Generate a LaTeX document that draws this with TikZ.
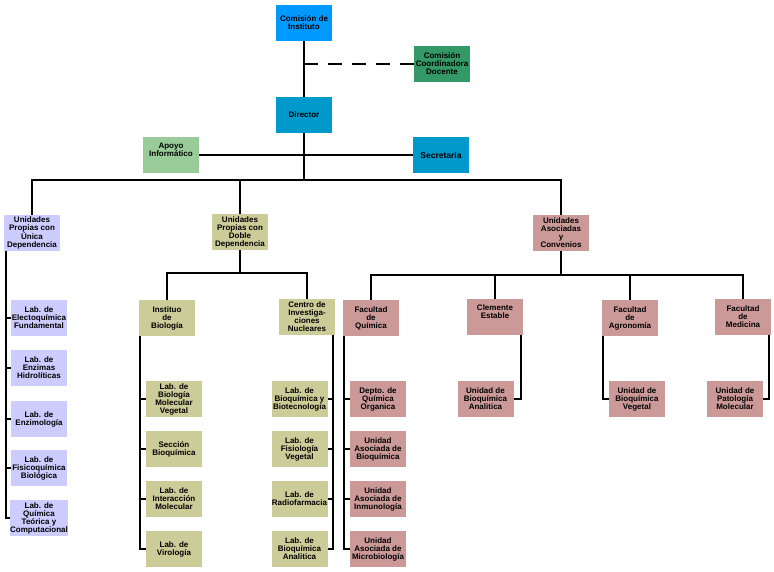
\documentclass[tikz,border=0pt]{standalone}
\usepackage{fontspec}
\setmainfont{Liberation Sans}
\definecolor{cblue}{HTML}{0099FF}
\definecolor{cteal}{HTML}{0099CC}
\definecolor{cgreen}{HTML}{339966}
\definecolor{clgreen}{HTML}{99CC99}
\definecolor{clav}{HTML}{CCCCFF}
\definecolor{colive}{HTML}{CCCC99}
\definecolor{cpink}{HTML}{CC9999}
\begin{document}
\begin{tikzpicture}[x=1pt,y=-1pt,
  box/.style={draw=none,inner sep=0pt,minimum width=56pt,minimum height=36pt,align=center,
    font=\bfseries\fontsize{8}{8}\selectfont},
  conn/.style={line width=1.8pt,black,line join=miter},
  lav/.style={box,fill=clav},
  oli/.style={box,fill=colive},
  pnk/.style={box,fill=cpink}]
\useasboundingbox (0,0) rectangle (774,572);
% top
\node[box,fill=cblue] (ci) at (304,23) {Comisión de\\Instituto};
\node[box,fill=cgreen] (ccd) at (442,64) {Comisión\\Coordinadora\\Docente};
\node[box,fill=cteal] (dir) at (304,115) {Director};
\node[box,fill=clgreen] (apo) at (171,155) {Apoyo\\Informático\\[3pt]};
\node[box,fill=cteal,font=\bfseries\fontsize{8.5}{9}\selectfont] (sec) at (441,155) {Secretaría};
% level 2
\node[lav] (upu) at (32,233) {Unidades\\Propias con\\Única\\Dependencia};
\node[oli] (upd) at (240,232) {Unidades\\Propias con\\Doble\\Dependencia};
\node[pnk] (uac) at (561,233) {Unidades\\Asociadas\\y\\Convenios};
% left column
\node[lav] (l1) at (39,318) {Lab. de\\Electoquímica\\Fundamental};
\node[lav] (l2) at (39,368) {Lab. de\\Enzimas\\Hidrolíticas};
\node[lav] (l3) at (39,419) {Lab. de\\Enzimología};
\node[lav] (l4) at (39,468) {Lab. de\\Fisicoquímica\\Biológica};
\node[lav] (l5) at (39,518) {Lab. de\\Química\\Teórica y\\Computacional};
% middle
\node[oli] (ib) at (167,318) {Instituo\\de\\Biología};
\node[oli] (cen) at (307,317) {Centro de\\Investiga-\\ciones\\Nucleares};
\node[oli] (i1) at (174,399) {Lab. de\\Biología\\Molecular\\Vegetal};
\node[oli] (i2) at (174,449) {Sección\\Bioquímica};
\node[oli] (i3) at (174,499) {Lab. de\\Interacción\\Molecular};
\node[oli] (i4) at (174,549) {Lab. de\\Virología};
\node[oli] (c1) at (299.5,399) {Lab. de\\Bioquímica y\\Biotecnología};
\node[oli] (c2) at (299.5,449) {Lab. de\\Fisiología\\Vegetal};
\node[oli] (c3) at (299.5,499) {Lab. de\\Radiofarmacia};
\node[oli] (c4) at (299.5,549) {Lab. de\\Bioquímica\\Analitica};
% right
\node[pnk] (fq) at (371,318) {Facultad\\de\\Química};
\node[pnk] (ce) at (495,317) {Clemente\\Estable\\[3pt]};
\node[pnk] (ag) at (630,318) {Facultad\\de\\Agronomía};
\node[pnk] (me) at (743,317) {Facultad\\de\\Medicina};
\node[pnk] (f1) at (378,399) {Depto. de\\Química\\Organica};
\node[pnk] (f2) at (378,449) {Unidad\\Asociada de\\Bioquímica};
\node[pnk] (f3) at (378,499) {Unidad\\Asociada de\\Inmunología};
\node[pnk] (f4) at (378,549) {Unidad\\Asociada de\\Microbiología};
\node[pnk] (ce1) at (485.5,399) {Unidad de\\Bioquímica\\Analitica};
\node[pnk] (ag1) at (637,399) {Unidad de\\Bioquímica\\Vegetal};
\node[pnk] (me1) at (735,399) {Unidad de\\Patología\\Molecular};
% connectors
\coordinate (bus1) at (304,180);
\coordinate (bus2) at (240,273);
\coordinate (bus3) at (561,275);
\draw[conn] (ci.south) -- (dir.north);
\draw[conn,dash pattern=on 14pt off 10pt] (ci.south |- ccd.west) -- (ccd.west);
\draw[conn] (apo.east |- sec.west) -- (sec.west);
\draw[conn] (dir.south) -- (bus1);
\draw[conn] (upu.north) -- (upu.north |- bus1) -- (uac.north |- bus1) -- (uac.north);
\draw[conn] (upd.north) -- (upd.north |- bus1);
% middle tree
\draw[conn] (upd.south) -- (bus2);
\draw[conn] (ib.north) -- (ib.north |- bus2) -- (cen.north |- bus2) -- (cen.north);
% right tree
\draw[conn] (uac.south) -- (bus3);
\draw[conn] (fq.north) -- (fq.north |- bus3) -- (me.north |- bus3) -- (me.north);
\draw[conn] (ce.north) -- (ce.north |- bus3);
\draw[conn] (ag.north) -- (ag.north |- bus3);
% left spine
\coordinate (s1) at ([xshift=2pt]upu.south west);
\draw[conn] (s1) |- (l5.west);
\foreach \i in {1,2,3,4} \draw[conn] (l\i.west -| s1) -- (l\i.west);
% instituto spine
\coordinate (s2) at ([xshift=1pt]ib.south west);
\draw[conn] (s2) |- (i4.west);
\foreach \i in {1,2,3} \draw[conn] (i\i.west -| s2) -- (i\i.west);
% centro spine
\coordinate (s3) at ([xshift=-2pt]cen.south east);
\draw[conn] (s3) |- (c4.east);
\foreach \i in {1,2,3} \draw[conn] (c\i.east -| s3) -- (c\i.east);
% facultad quimica spine
\coordinate (s4) at ([xshift=1pt]fq.south west);
\draw[conn] (s4) |- (f4.west);
\foreach \i in {1,2,3} \draw[conn] (f\i.west -| s4) -- (f\i.west);
% others
\draw[conn] ([xshift=-2pt]ce.south east) |- (ce1.east);
\draw[conn] ([xshift=1pt]ag.south west) |- (ag1.west);
\draw[conn] ([xshift=-2pt]me.south east) |- (me1.east);
\end{tikzpicture}
\end{document}
